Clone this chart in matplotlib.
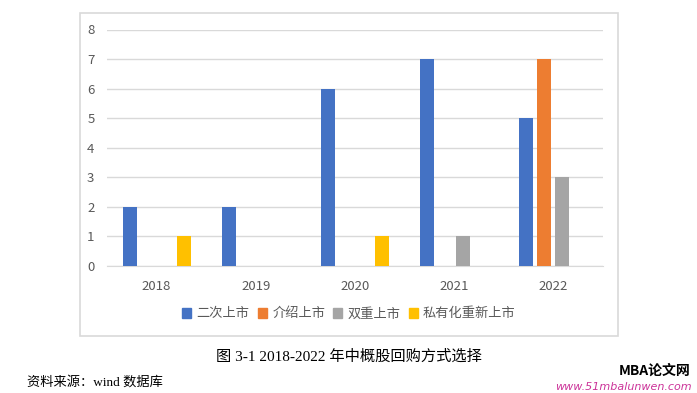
import numpy as np
import matplotlib.pyplot as plt
from matplotlib.patches import Rectangle

years = ['2018', '2019', '2020', '2021', '2022']
series_names = ['二次上市', '介绍上市', '双重上市', '私有化重新上市']
ercishangshi = [2, 2, 6, 7, 5]
jieshao = [0, 0, 0, 0, 7]
shuangchong = [0, 0, 0, 1, 3]
siyouhua = [1, 0, 1, 0, 0]
colors = ['#4472C4', '#ED7D31', '#A5A5A5', '#FFC000']

plt.rcParams['font.family'] = ['Noto Sans CJK SC', 'DejaVu Sans']

W, H = 697, 393
fig = plt.figure(figsize=(W / 100, H / 100), dpi=100)

# chart frame
fig.patches.append(Rectangle((80 / W, 1 - 336 / H), 538 / W, 323 / H,
                             transform=fig.transFigure, fill=False,
                             edgecolor='#D9D9D9', linewidth=1.2))

ax = fig.add_axes([107 / W, 1 - 266 / H, 496 / W, 236.5 / H])
x = np.arange(len(years))
bw = 0.141
step = 0.181
all_vals = [ercishangshi, jieshao, shuangchong, siyouhua]
for i, (vals, c, name) in enumerate(zip(all_vals, colors, series_names)):
    ax.bar(x + (i - 1.5) * step, vals, width=bw, color=c, label=name, zorder=3)

ax.set_xlim(-0.5, 4.5)
ax.set_ylim(0, 8)
ax.set_yticks(range(0, 9))
ax.set_xticks(x)
ax.set_xticklabels(years)
ax.grid(axis='y', color='#D9D9D9', linewidth=1, zorder=0)
for s in ['top', 'right', 'left']:
    ax.spines[s].set_visible(False)
ax.spines['bottom'].set_color('#D9D9D9')
ax.tick_params(length=0, colors='#595959', labelsize=9.5)
ax.tick_params(axis='x', pad=10)
ax.tick_params(axis='y', pad=9)

handles = [Rectangle((0, 0), 1, 1, color=c) for c in colors]
fig.legend(handles, series_names, loc='center', bbox_to_anchor=(349 / W, 1 - 314 / H),
           ncol=4, frameon=False, fontsize=9.5, handlelength=0.7, handleheight=0.7,
           handletextpad=0.4, columnspacing=0.6, labelcolor='#595959')

serif = ['Liberation Serif', 'Noto Sans CJK SC']
fig.text(349 / W, 1 - 357 / H, '图 3-1 2018-2022 年中概股回购方式选择', ha='center', va='center',
         fontsize=11, family=serif)
fig.text(27 / W, 1 - 382 / H, '资料来源：wind 数据库', ha='left', va='center',
         fontsize=9.5, family=serif)

fig.text(690 / W, 1 - 371 / H, 'MBA论文网', ha='right', va='center', fontsize=10,
         fontweight='bold', style='italic', color='black')
fig.text(692 / W, 1 - 387 / H, 'www.51mbalunwen.com', ha='right', va='center', fontsize=8,
         style='italic', color='#CC3399', family=['DejaVu Sans'])

fig.savefig('out.png', dpi=100)
